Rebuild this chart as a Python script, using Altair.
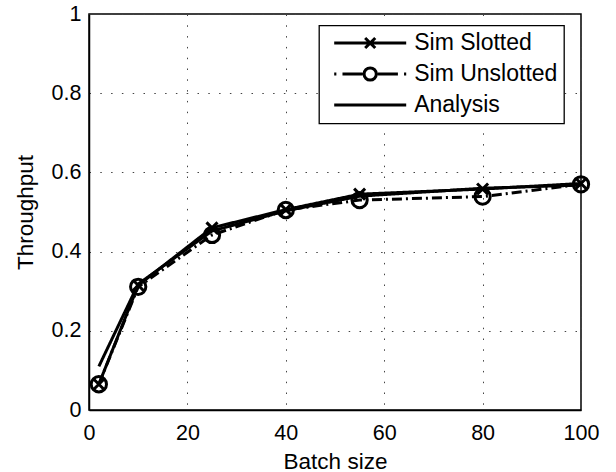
import altair as alt
import pandas as pd

# ---- data ----
batch = [2, 10, 25, 40, 55, 80, 100]
sim_slotted = [0.065, 0.315, 0.460, 0.506, 0.545, 0.558, 0.572]
sim_unslotted = [0.065, 0.311, 0.442, 0.505, 0.530, 0.539, 0.570]
analysis = [0.110, 0.318, 0.452, 0.503, 0.540, 0.560, 0.568]
series_names = ["Sim Slotted", "Sim Unslotted", "Analysis"]
series_dash = ["solid", "dashdot", "solid"]
x_ticks = [0, 20, 40, 60, 80, 100]
y_ticks = [0, 0.2, 0.4, 0.6, 0.8, 1.0]

rows = []
for name, dash, vals in zip(series_names, series_dash, [sim_slotted, sim_unslotted, analysis]):
    for xv, yv in zip(batch, vals):
        rows.append({"batch": xv, "thr": yv, "series": name, "dash": dash})
df = pd.DataFrame(rows)

FONT = "Liberation Sans"

X_PATH = "M-1,-1L1,1M-1,1L1,-1"
LEG_SLOT = "M-1,0L1,0M-0.14,-0.14L0.14,0.14M-0.14,0.14L0.14,-0.14"
LEG_UNSLOT = ("M-1,0L-0.94,0M-0.77,0L-0.21,0"
              "M-0.17,0A0.17,0.17,0,1,0,0.17,0A0.17,0.17,0,1,0,-0.17,0"
              "M0.21,0L0.77,0M0.94,0L1,0")
LEG_ANA = "M-1,0L1,0"

x_enc = alt.X(
    "batch:Q",
    scale=alt.Scale(domain=[0, 100], nice=False, zero=False),
    axis=alt.Axis(values=x_ticks, format="d", title="Batch size",
                  labelBaseline="alphabetic", labelPadding=29,
                  titleY=58, titleBaseline="alphabetic"),
)
y_enc = alt.Y(
    "thr:Q",
    scale=alt.Scale(domain=[0, 1], nice=False),
    axis=alt.Axis(values=y_ticks, format="~g", title="Throughput",
                  labelPadding=8, titleX=-57, titleY=198,
                  titleBaseline="alphabetic"),
)

lines = alt.Chart(df).mark_line(color="black", strokeWidth=3).encode(
    x=x_enc,
    y=y_enc,
    detail="series:N",
    strokeDash=alt.StrokeDash(
        "dash:N",
        scale=alt.Scale(domain=["solid", "dashdot"], range=[[1, 0], [10, 4, 2, 4]]),
        legend=None,
    ),
)

slot_pts = alt.Chart(df).transform_filter(
    alt.datum.series == "Sim Slotted"
).mark_point(shape=X_PATH, size=121, color="black", filled=False,
             strokeWidth=3, opacity=1).encode(x=x_enc, y=y_enc)

unslot_pts = alt.Chart(df).transform_filter(
    alt.datum.series == "Sim Unslotted"
).mark_point(shape="circle", size=234, color="black", filled=False,
             strokeWidth=3, opacity=1).encode(x=x_enc, y=y_enc)

# legend-only layer: no rows are drawn, the legend comes from the explicit scale domain
leg = alt.Chart(df).transform_filter("false").mark_point(
    filled=False, color="black", strokeWidth=3, opacity=1, size=5184
).encode(
    x=x_enc,
    y=y_enc,
    shape=alt.Shape(
        "series:N",
        scale=alt.Scale(domain=series_names, range=[LEG_SLOT, LEG_UNSLOT, LEG_ANA]),
        legend=alt.Legend(
            title=None, orient="none", legendX=230, legendY=11.5,
            symbolOpacity=1, symbolSize=5184, symbolStrokeWidth=3,
            symbolStrokeColor="black", symbolFillColor="white",
            labelFont=FONT, labelFontSize=23, labelColor="black",
            labelOffset=6.5, labelLimit=0, symbolOffset=7.7,
            clipHeight=23, rowPadding=7, padding=6,
        ),
    ),
)

chart = alt.layer(lines, slot_pts, unslot_pts, leg).properties(
    width=492, height=396,
    padding={"left": 89, "top": 14, "right": 35, "bottom": 62},
    autosize=alt.AutoSizeParams(type="none"),
).configure_view(
    stroke="black", strokeWidth=1.5
).configure_axis(
    domainColor="black", domainWidth=1.5, ticks=False, tickSize=0,
    labelFont=FONT, labelFontSize=21.5, labelColor="black",
    labelFlush=False, labelOverlap=False,
    titleFont=FONT, titleFontSize=22.5, titleFontWeight="normal", titleColor="black",
    grid=True, gridColor="#444444", gridDash=[1.5, 9.3], gridWidth=1, gridOpacity=1,
).configure_legend(
    strokeColor="black", strokeWidth=1.3, fillColor="white", cornerRadius=0,
)

chart.save("out.html", embed_options={"renderer": "svg", "actions": False})
